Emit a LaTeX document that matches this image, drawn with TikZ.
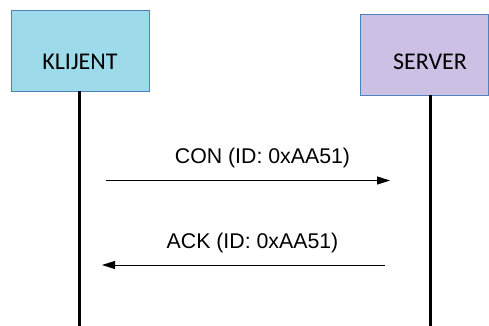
\documentclass[tikz,border=0pt]{standalone}
\usepackage{fontspec}
\setmainfont{Liberation Sans}
\newfontfamily\boxfont{Carlito}
\usepackage{xcolor}
\usepackage{tikz}
\usetikzlibrary{arrows.meta,positioning}

\definecolor{klijentfill}{RGB}{157,218,234}
\definecolor{serverfill}{RGB}{204,193,229}
\definecolor{boxline}{RGB}{79,129,189}

\begin{document}
\begin{tikzpicture}[
  x=1pt, y=-1pt,
  box/.style={draw=boxline,line width=0.8pt,minimum width=138pt,minimum height=81pt,inner sep=0pt},
  boxtext/.style={font=\boxfont\fontsize{24}{26}\selectfont},
  lifeline/.style={line width=3pt},
  msg/.style={-{Triangle[length=13pt,width=8pt]},line width=0.8pt},
  msgtext/.style={font=\fontsize{21.3}{24}\selectfont}
]
\useasboundingbox (0,0) rectangle (489,326);

% the two participants
\node[box, fill=klijentfill] (kl) at (80,50.5) {};
\node[box, fill=serverfill, minimum width=128pt] (srv) at (424.5,54.5) {};
\node[boxtext] (kltext) at (80,62) {KLIJENT};
\node[boxtext] (srvtext) at (430,62) {SERVER};

% lifelines
\coordinate (kltop) at (79,91);
\coordinate (klbot) at (79,326);
\coordinate (srvtop) at (430,95);
\coordinate (srvbot) at (430,326);
\draw[lifeline] (kltop) -- (klbot);
\draw[lifeline] (srvtop) -- (srvbot);

% messages
\coordinate (con1) at (106,180.5);
\coordinate (con2) at (390,180.5);
\coordinate (ack1) at (385,265);
\coordinate (ack2) at (102,265);
\draw[msg] (con1) -- (con2);
\draw[msg] (ack1) -- (ack2);
\node[msgtext] (context) at (262.5,158) {CON (ID: 0xAA51)};
\node[msgtext] (acktext) at (252.5,243) {ACK (ID: 0xAA51)};
\end{tikzpicture}
\end{document}
